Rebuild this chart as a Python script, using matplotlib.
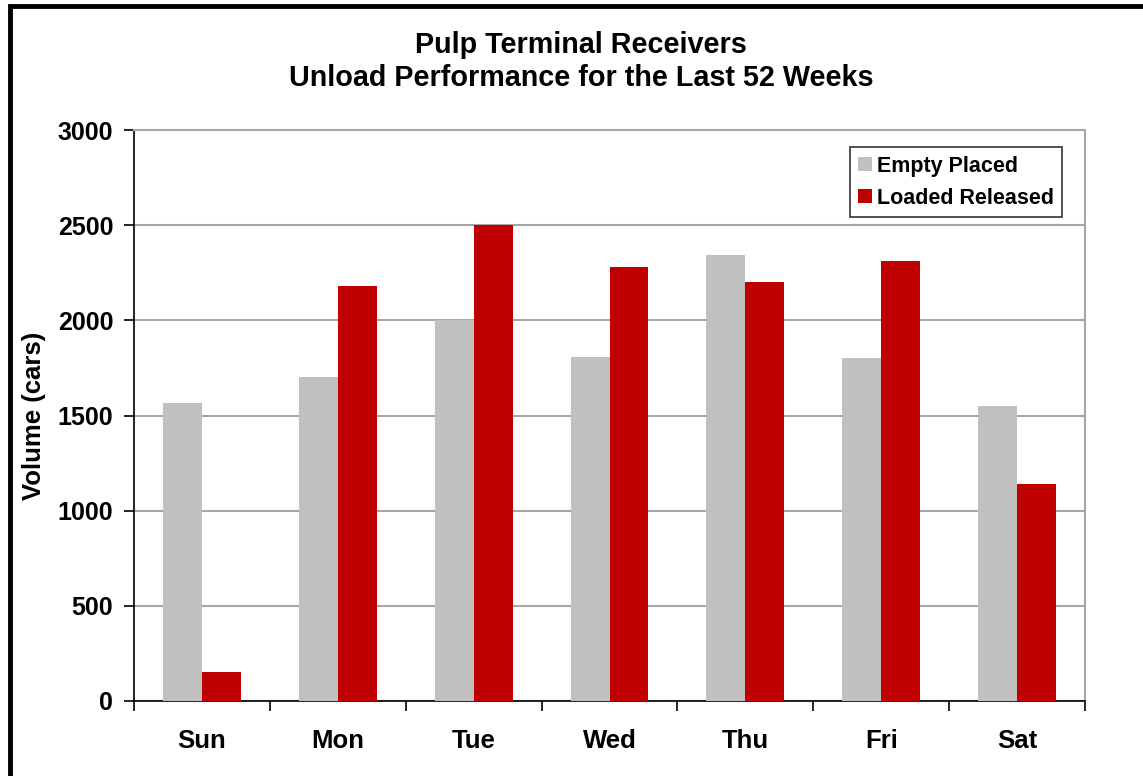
import numpy as np
import matplotlib
matplotlib.use("Agg")
import matplotlib.pyplot as plt
from matplotlib.patches import Rectangle

days = ["Sun", "Mon", "Tue", "Wed", "Thu", "Fri", "Sat"]
empty_placed = [1566, 1704, 2000, 1809, 2345, 1802, 1551]
loaded_released = [151, 2180, 2500, 2280, 2201, 2310, 1138]

plt.rcParams['font.family'] = ['Liberation Sans', 'DejaVu Sans']
plt.rcParams['font.weight'] = 'bold'

fig = plt.figure(figsize=(11.43, 7.76), dpi=100)
ax = fig.add_axes([134/1143, 1 - 701/776, (1085-134)/1143, (701-130)/776])

x = np.arange(len(days))
w = 0.287
ax.bar(x - w/2, empty_placed, w, color='#C0C0C0', label='Empty Placed', zorder=3)
ax.bar(x + w/2, loaded_released, w, color='#C00000', label='Loaded Released', zorder=3)

ax.set_xlim(-0.5, len(days) - 0.5)
ax.set_ylim(0, 3000)
ax.set_yticks(np.arange(0, 3001, 500))
ax.yaxis.grid(True, color='#a6a6a6', lw=1.5, zorder=0)

ax.set_xticks(x)
ax.set_xticklabels(days, fontsize=18.5, fontweight='bold')
ax.set_xticks(np.arange(-0.5, len(days), 1), minor=True)
ax.tick_params(axis='x', which='major', length=0, pad=20)
ax.tick_params(axis='x', which='minor', length=7, width=1.2, direction='out')
ax.tick_params(axis='y', length=7, width=1.2, direction='out', labelsize=18, pad=8)
for lbl in ax.get_yticklabels():
    lbl.set_fontweight('bold')

ax.spines['left'].set_color('black')
ax.spines['left'].set_linewidth(1.2)
ax.spines['bottom'].set_color('black')
ax.spines['bottom'].set_linewidth(1.2)
ax.spines['right'].set_color('#a6a6a6')
ax.spines['right'].set_linewidth(1.5)
ax.spines['top'].set_color('#a6a6a6')
ax.spines['top'].set_linewidth(1.5)

ax.set_ylabel('Volume (cars)', fontsize=18.5, fontweight='bold', labelpad=8)

leg = ax.legend(loc='upper right', bbox_to_anchor=(0.976, 0.970), borderaxespad=0,
                fontsize=15.5, frameon=True, fancybox=False, handlelength=0.65,
                handleheight=0.65, handletextpad=0.2, borderpad=0.4, labelspacing=0.5)
leg.get_frame().set_edgecolor('black')
leg.get_frame().set_linewidth(1.2)
for t in leg.get_texts():
    t.set_fontweight('bold')

fig.text(581/1143, 1 - 45/776, 'Pulp Terminal Receivers', ha='center', va='center',
         fontsize=20.7, fontweight='bold')
fig.text(581/1143, 1 - 78/776, 'Unload Performance for the Last 52 Weeks', ha='center',
         va='center', fontsize=20.7, fontweight='bold')

fig.patches.append(Rectangle((10/1143, -0.1), 1.2, 1 - 6/776 + 0.1,
                             transform=fig.transFigure, fill=False,
                             edgecolor='black', lw=3.5, zorder=10))

fig.savefig('out.png', dpi=100, facecolor='white')
